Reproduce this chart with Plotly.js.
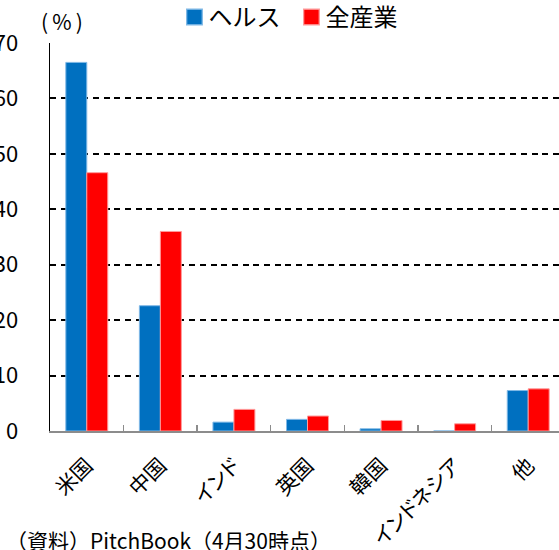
<!DOCTYPE html>
<html>
<head>
<meta charset="utf-8">
<script src="https://cdn.plot.ly/plotly-3.0.1.min.js"></script>
<style>
  html, body { margin: 0; padding: 0; overflow: hidden; background: #fff; }
  #chart { width: 570px; height: 550px; }
  /* proportional kana widths for the rotated category labels */
  #chart .xtick text { font-feature-settings: "palt"; }
  /* larger legend swatches */
  #chart .legendpoints path { scale: 1.3; }
</style>
</head>
<body>
<div id="chart"></div>
<script>
// Share of deals by country (%), health sector vs. all industries
const categories = ["米国", "中国", "インド", "英国", "韓国", "インドネシア", "他"];
const healthValues = [66.5, 22.6, 1.6, 2.1, 0.4, 0, 7.3];
const allIndustryValues = [46.6, 36.0, 3.9, 2.7, 1.9, 1.3, 7.6];
const seriesNames = ["ヘルス", "全産業"];
const yTicks = [0, 10, 20, 30, 40, 50, 60, 70];
const sourceNote = "（資料）PitchBook（4月30時点）";
const unitLabel = "(\u2009%\u2009)";

const FONT = "'Noto Sans CJK JP', 'Noto Sans', sans-serif";

const traces = [
  {
    type: "bar",
    name: seriesNames[0],
    x: categories,
    y: healthValues,
    marker: { color: "#0070C0", line: { color: "#7FB8E6", width: 1 } }
  },
  {
    type: "bar",
    name: seriesNames[1],
    x: categories,
    y: allIndustryValues,
    marker: { color: "#FF0000", line: { color: "#FF9A9A", width: 1 } }
  }
];

const layout = {
  width: 570,
  height: 550,
  margin: { l: 50, r: 5, t: 43, b: 119, autoexpand: false },
  paper_bgcolor: "#ffffff",
  plot_bgcolor: "#ffffff",
  font: { family: FONT, color: "#000000" },
  barmode: "group",
  bargap: 0.43,
  bargroupgap: 0,
  showlegend: true,
  legend: {
    orientation: "h",
    x: 0.23,
    xanchor: "left",
    y: 1.066,
    yanchor: "middle",
    font: { family: FONT, size: 24, color: "#000000" },
    bgcolor: "rgba(0,0,0,0)",
    itemclick: false
  },
  xaxis: {
    type: "category",
    tickangle: -45,
    tickfont: { family: FONT, size: 21, color: "#000000" },
    ticklabelstandoff: 12,
    showline: true,
    linecolor: "#8c8c8c",
    linewidth: 2,
    ticks: "inside",
    tickson: "boundaries",
    ticklen: 6,
    tickwidth: 1.5,
    tickcolor: "#8c8c8c",
    showgrid: false,
    zeroline: false,
    fixedrange: true
  },
  yaxis: {
    range: [0, 70],
    tickvals: yTicks,
    ticktext: yTicks.map(String),
    tickfont: { family: FONT, size: 22, color: "#000000" },
    ticklabelstandoff: 26,
    showline: true,
    linecolor: "#000000",
    linewidth: 1.5,
    ticks: "",
    showgrid: true,
    gridcolor: "#000000",
    gridwidth: 2,
    griddash: "6px,4.7px",
    zeroline: false,
    fixedrange: true
  },
  annotations: [
    {
      text: unitLabel,
      xref: "paper", yref: "paper",
      x: -0.022, y: 1.057,
      xanchor: "left", yanchor: "middle",
      showarrow: false,
      font: { family: FONT, size: 21, color: "#000000" }
    },
    {
      text: sourceNote,
      xref: "paper", yref: "paper",
      x: -0.09, y: -0.282,
      xanchor: "left", yanchor: "middle",
      showarrow: false,
      font: { family: FONT, size: 21, color: "#000000" }
    }
  ]
};

Plotly.newPlot("chart", traces, layout, { displayModeBar: false, staticPlot: true });
</script>
</body>
</html>
